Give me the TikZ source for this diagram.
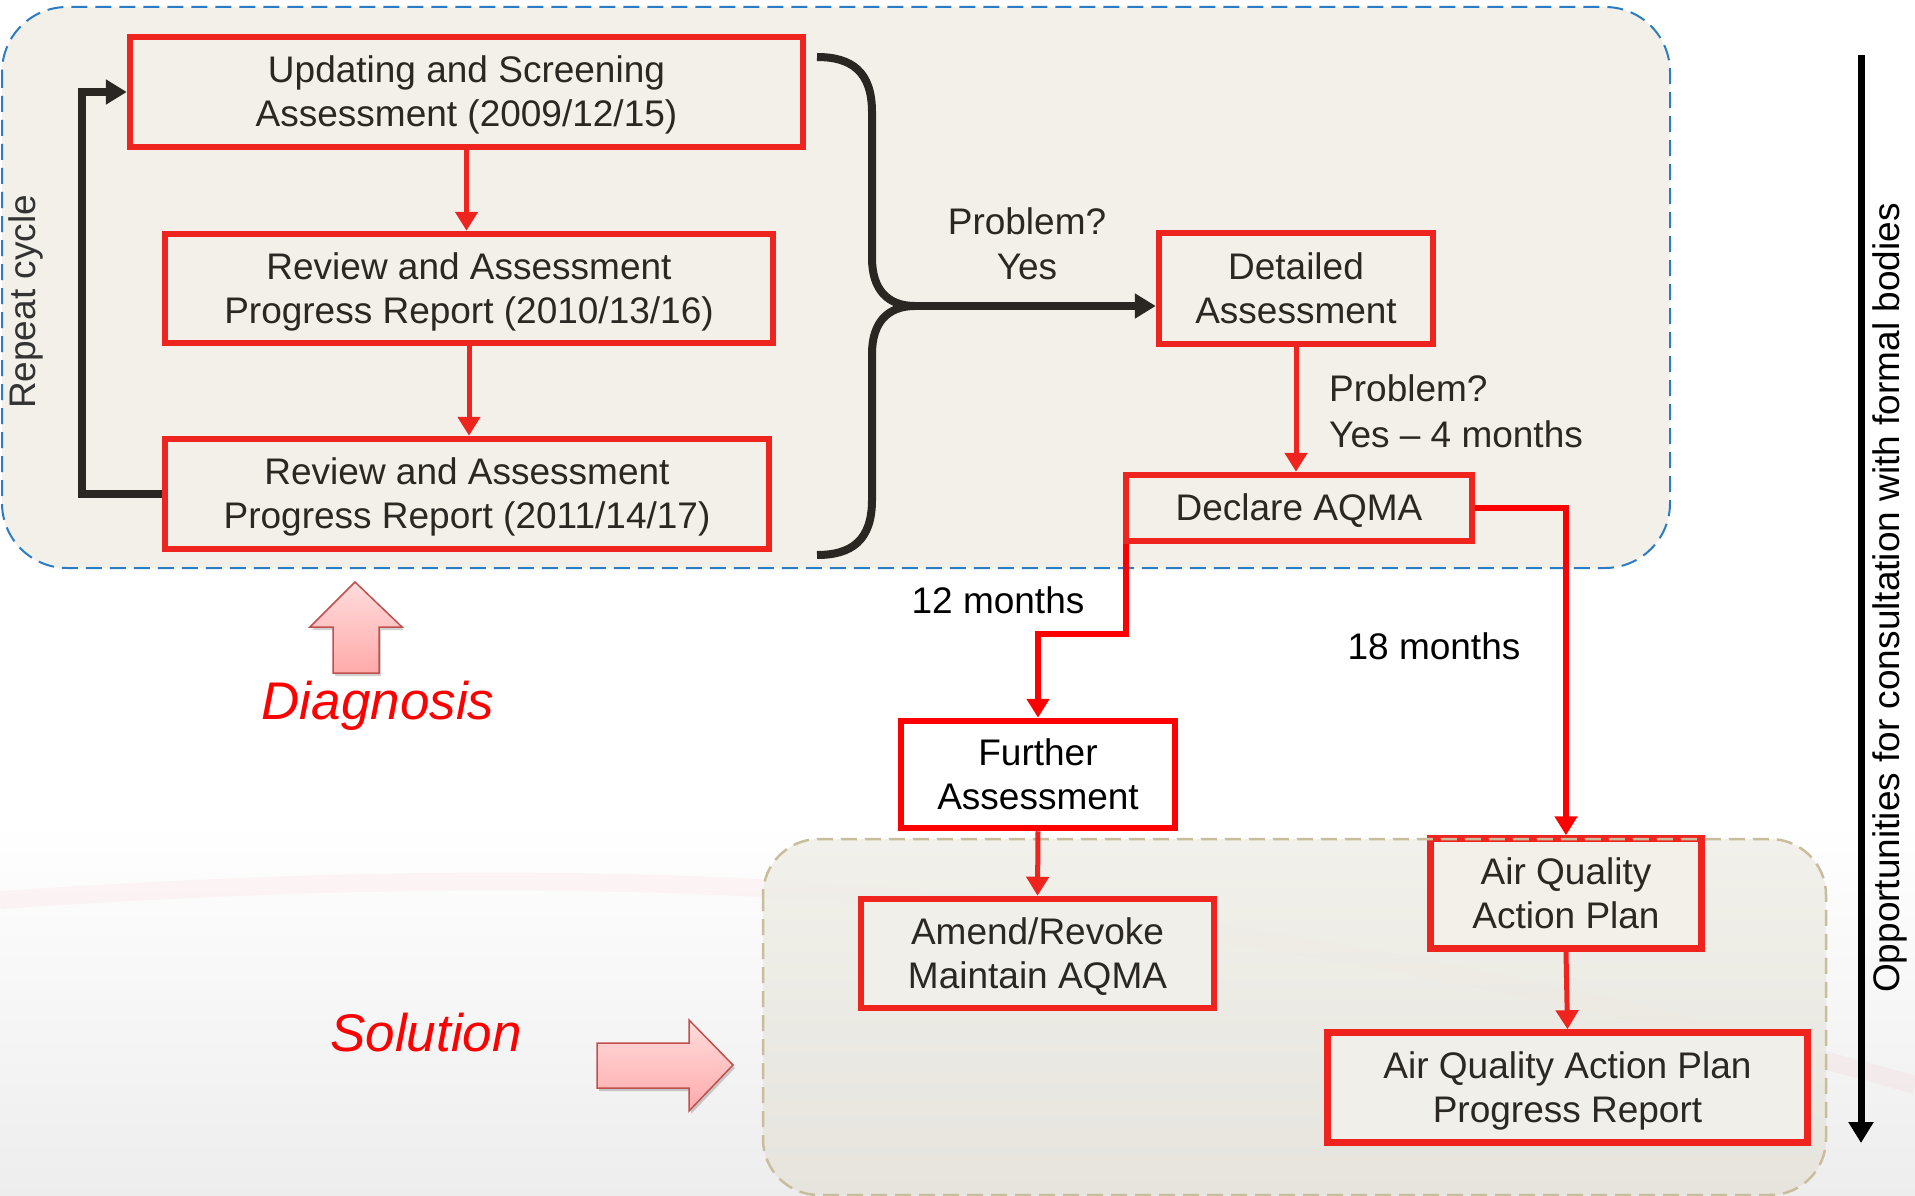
\documentclass[tikz,border=0pt]{standalone}
\usepackage{fontspec}
\setmainfont{Liberation Sans}
\usetikzlibrary{arrows.meta}
\definecolor{boxred}{HTML}{F0241F}
\definecolor{purered}{HTML}{FF0000}
\definecolor{panel}{HTML}{F3F0EA}
\definecolor{panelb}{HTML}{F1EFE9}
\definecolor{panelc}{HTML}{E6E4DC}
\definecolor{bluedash}{HTML}{2A7DC4}
\definecolor{tandash}{HTML}{C8BE9E}
\definecolor{ink}{HTML}{2B2722}
\definecolor{bracecol}{HTML}{2A2621}
\definecolor{pinktop}{HTML}{FFDCDC}
\definecolor{pinkbot}{HTML}{FFAAAA}
\definecolor{pinkedge}{HTML}{C0504D}
\newcommand\mystrut{\vrule width0pt height33.5pt depth7.8pt}
\begin{document}
\begin{tikzpicture}[x=1pt,y=-1pt,
  every node/.style={font=\fontsize{37}{44}\selectfont, text=ink, inner sep=0pt},
  flowbox/.style={draw=boxred, line width=6.5pt, fill=panel, align=center},
  redarrow/.style={draw=boxred, line width=5pt, -{Triangle[width=22pt,length=19pt]}},
  purearrow/.style={draw=purered, line width=6pt, -{Triangle[width=22pt,length=19pt]}},
  blackarrow/.style={draw=bracecol, line width=8pt, -{Triangle[width=24pt,length=21pt]}},
  bigarrow/.style={draw=pinkedge, line width=1.5pt, top color=pinktop, bottom color=pinkbot},
  lbl/.style={align=center},
  callout/.style={font=\fontsize{53}{60}\selectfont\itshape, text=purered}
]
\useasboundingbox (0,0) rectangle (1915,1196);
% background
\fill[white] (0,0) rectangle (1915,1196);
\shade[top color=white, bottom color=black!7] (0,820) rectangle (1915,1196);
\draw[red!60, opacity=0.05, line width=18pt] (0,900) .. controls (600,860) and (1150,870) .. (1915,1085);

% containers
\fill[panel] (2,7) [rounded corners=65pt] rectangle (1670,568);
\draw[bluedash, line width=2pt, dash pattern=on 16pt off 8pt, rounded corners=65pt] (2,7) rectangle (1670,568);
\shade[top color=panelb, bottom color=panelc, rounded corners=56pt, opacity=0.92] (763,839) rectangle (1826,1195);

% boxes
\node[flowbox, minimum width=673pt, minimum height=110pt] (b1) at (466.5,92) {\mystrut Updating and Screening\\\mystrut Assessment (2009/12/15)};
\node[flowbox, minimum width=608pt, minimum height=109pt] (b2) at (469,288.5) {\mystrut Review and Assessment\\\mystrut Progress Report (2010/13/16)};
\node[flowbox, minimum width=604pt, minimum height=110pt] (b3) at (467,494) {\mystrut Review and Assessment\\\mystrut Progress Report (2011/14/17)};
\node[flowbox, minimum width=274pt, minimum height=111pt] (det) at (1296,288.5) {\mystrut Detailed\\\mystrut Assessment};
\node[flowbox, minimum width=346pt, minimum height=66pt] (decl) at (1299,508) {\mystrut Declare AQMA};
\node[flowbox, draw=purered, fill=white, text=black, minimum width=274pt, minimum height=107pt] (fur) at (1038,774.5) {\mystrut Further\\\mystrut Assessment};
\node[flowbox, fill=panelb, minimum width=353pt, minimum height=109pt] (amend) at (1037.5,953.5) {\mystrut Amend/Revoke\\\mystrut Maintain AQMA};
\node[flowbox, minimum width=271pt, minimum height=110pt] (aqap) at (1566,893.5) {\mystrut Air Quality\\\mystrut Action Plan};
\node[flowbox, fill=panelb, minimum width=480pt, minimum height=110pt] (pr) at (1567.5,1087.5) {\mystrut Air Quality Action Plan\\\mystrut Progress Report};

\draw[tandash, line width=2.5pt, dash pattern=on 16pt off 8pt, rounded corners=56pt] (763,839) rectangle (1826,1195);

% cycle connectors
\draw[redarrow] (b1.south) -- (b1.south |- b2.north);
\draw[redarrow] (b2.south) -- (b2.south |- b3.north);
\coordinate (loopx) at (82,300);
\draw[blackarrow] (b3.west) -- (b3.west -| loopx) |- (b1.west);
\node[rotate=90, text=black!80] (rep) at (26,302) {Repeat cycle};

% brace
\draw[bracecol, line width=8pt] (817,57) .. controls (852,57) and (872,72) .. (872,112) -- (872,258) .. controls (872,290) and (888,306) .. (915,306) .. controls (888,306) and (872,322) .. (872,354) -- (872,500) .. controls (872,540) and (852,555) .. (817,555);
\coordinate (tip) at (905,306);
\draw[blackarrow] (tip) -- (tip -| det.west);
\node[lbl, font=\fontsize{37}{45}\selectfont] (q1) at (1027,244) {Problem?\\Yes};

% right branch
\draw[redarrow] (det.south) -- (det.south |- decl.north);
\node[align=left, anchor=west, font=\fontsize{37}{46}\selectfont] (q2) at (1329,411) {Problem?\\Yes -- 4 months};
\draw[purearrow] ([xshift=3.25pt]decl.south west) -- ++(0,90) -| (fur.north);
\draw[purearrow] (decl.east) -| (aqap.north);
\node[text=black] (m12) at (998,600) {12 months};
\node[text=black] (m18) at (1434,646) {18 months};
\draw[redarrow] (fur.south) -- (amend.north);
\draw[redarrow] (aqap.south) -- (pr.north);

% consultation arrow
\coordinate (ot) at (1861,55);
\coordinate (ob) at (1861,1143);
\draw[draw=black, line width=7pt, -{Triangle[width=24pt,length=21pt]}] (ot) -- (ob);
\node[rotate=90, text=black] (opp) at (1890,598) {Opportunities for consultation with formal bodies};

% diagnosis / solution
\fill[black, opacity=0.18] (357,585) -- (404,630) -- (381,630) -- (381,676) -- (335,676) -- (335,630) -- (312,630) -- cycle;
\draw[bigarrow] (355,582) -- (402,627) -- (379,627) -- (379,673) -- (333,673) -- (333,627) -- (310,627) -- cycle;
\node[callout, anchor=base] (diag) at (378,719) {Diagnosis};
\fill[black, opacity=0.18] (599,1046) -- (691,1046) -- (691,1023) -- (735,1068) -- (691,1114) -- (691,1091) -- (599,1091) -- cycle;
\draw[bigarrow] (597,1043) -- (689,1043) -- (689,1020) -- (733,1065) -- (689,1111) -- (689,1088) -- (597,1088) -- cycle;
\node[callout, anchor=base] (sol) at (426,1051) {Solution};
\end{tikzpicture}
\end{document}
